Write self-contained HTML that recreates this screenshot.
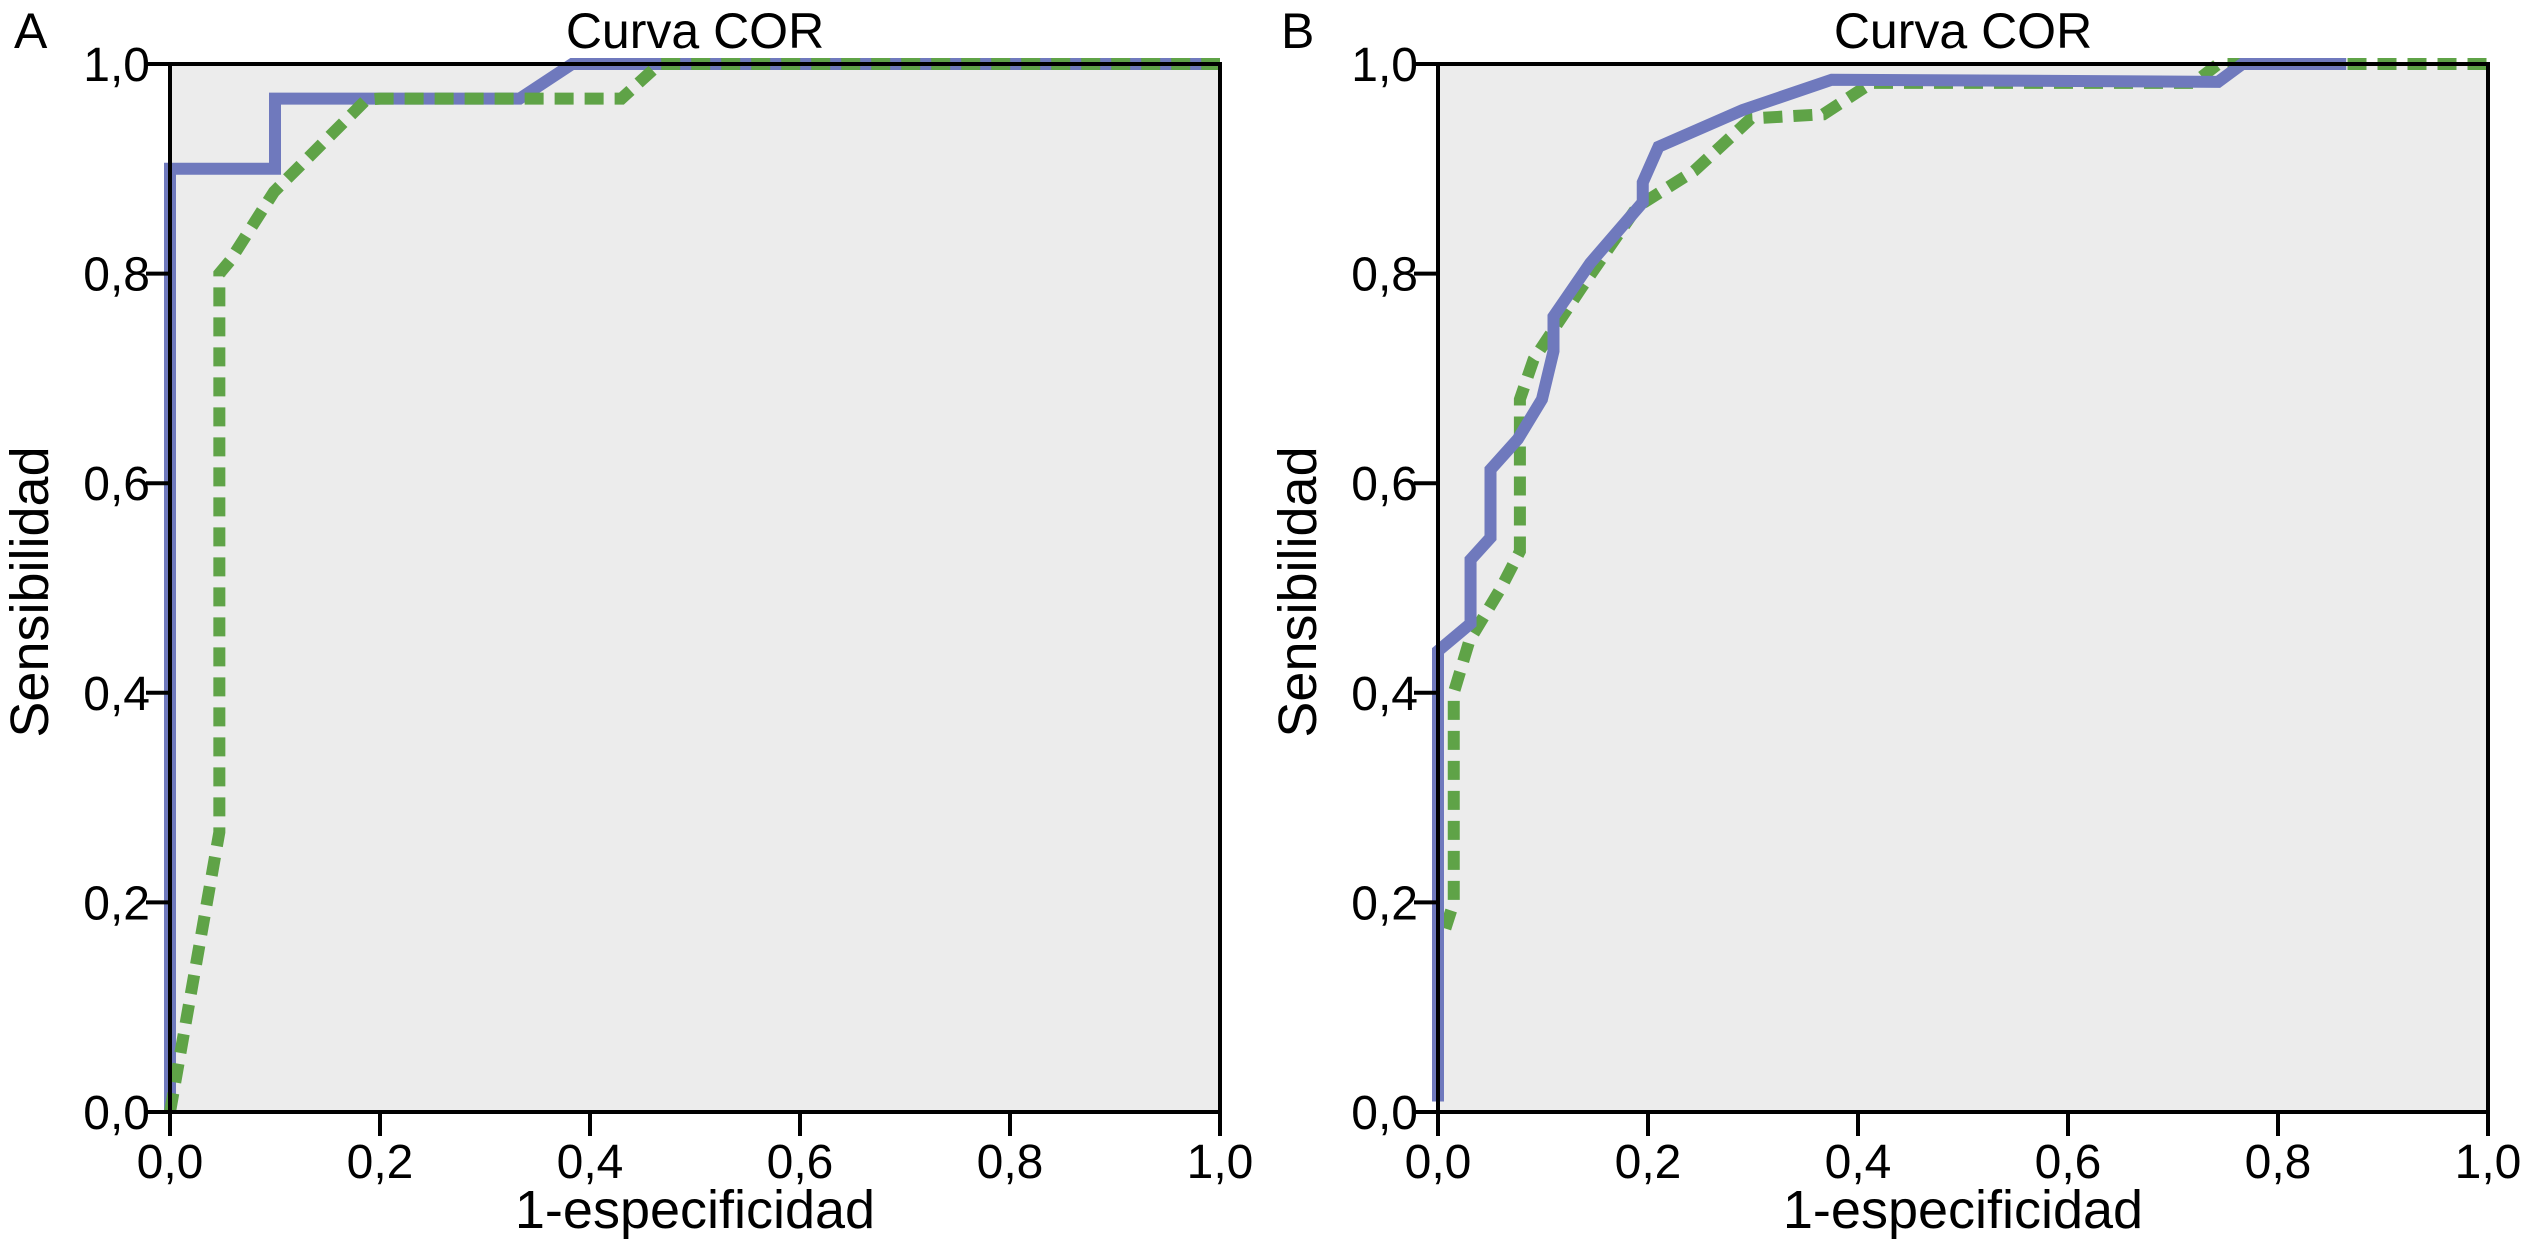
<!DOCTYPE html>
<html><head><meta charset="utf-8"><style>
html,body{margin:0;padding:0;background:#fff;}
svg{display:block;font-family:"Liberation Sans",Arial,sans-serif;}
</style></head><body>
<svg id="chart" width="2521" height="1257" viewBox="0 0 2521 1257"></svg>
<script>
const xTicks=[0,0.2,0.4,0.6,0.8,1.0];
const yTicks=[0,0.2,0.4,0.6,0.8,1.0];
const tickLabels=["0,0","0,2","0,4","0,6","0,8","1,0"];
const aBlueX=[0,0,0.1,0.1,0.333,0.383,1];
const aBlueY=[0,0.9,0.9,0.967,0.967,1,1];
const aGreenX=[0,0.047,0.047,0.057,0.099,0.187,0.2,0.43,0.466,1];
const aGreenY=[0,0.267,0.8,0.812,0.878,0.966,0.967,0.967,1,1];
const bBlueX=[0,0,0.031,0.031,0.05,0.05,0.076,0.099,0.11,0.11,0.145,0.195,0.195,0.21,0.29,0.375,0.743,0.766,0.865];
const bBlueY=[0.01,0.44,0.466,0.527,0.548,0.613,0.642,0.68,0.726,0.759,0.81,0.868,0.887,0.921,0.956,0.985,0.983,1,1];
const bGreenX=[0.007,0.015,0.015,0.03,0.06,0.078,0.078,0.091,0.137,0.19,0.244,0.298,0.367,0.413,0.72,0.743,1];
const bGreenY=[0.175,0.2,0.4,0.45,0.5,0.535,0.68,0.718,0.787,0.864,0.898,0.948,0.952,0.982,0.982,1,1];

const NS="http://www.w3.org/2000/svg";
const svg=document.getElementById('chart');
function mk(tag,attrs,parent){const e=document.createElementNS(NS,tag);for(const k in attrs)e.setAttribute(k,attrs[k]);(parent||svg).appendChild(e);return e;}

const panels=[
 {letter:"A",x0:170,x1:1220,bx:aBlueX,by:aBlueY,gx:aGreenX,gy:aGreenY,lx:14,greenTop:true},
 {letter:"B",x0:1438,x1:2488,bx:bBlueX,by:bBlueY,gx:bGreenX,gy:bGreenY,lx:1281,greenTop:false}
];
const y0=1112,y1=64;
panels.forEach((p,i)=>{
 const g=mk('g',{});
 
 
 const sx=v=>p.x0+v*(p.x1-p.x0);
 const sy=v=>y0-v*(y0-y1);
 const bg=mk('rect',{x:p.x0,y:y1,width:p.x1-p.x0,height:y0-y1,fill:'#ececec'},g);
 
 
 function green(){
  const gl=mk('path',{d:'M'+p.gx.map((v,k)=>sx(v)+','+sy(p.gy[k])).join(' L'),fill:'none',stroke:'#5fa347','stroke-width':12,'stroke-dasharray':'19 11'},g);
  
  
 }
 function blue(){
  const bl=mk('path',{d:'M'+p.bx.map((v,k)=>sx(v)+','+sy(p.by[k])).join(' L'),fill:'none',stroke:'#6f79bd','stroke-width':12,'stroke-linejoin':'miter'},g);
  
  
 }
 if(p.greenTop){blue();green();}else{green();blue();}
 const fr=mk('rect',{x:p.x0,y:y1,width:p.x1-p.x0,height:y0-y1,fill:'none',stroke:'#000','stroke-width':4},g);
 
 
 xTicks.forEach((v,k)=>{
  const t=mk('line',{x1:sx(v),x2:sx(v),y1:y0,y2:y0+24,stroke:'#000','stroke-width':4},g);
  
  
  const tl=mk('text',{x:sx(v),y:y0+66,'font-size':48,'text-anchor':'middle',fill:'#000'},g);
  tl.textContent=tickLabels[k];
  
  
 });
 yTicks.forEach((v,k)=>{
  const t=mk('line',{x1:p.x0-24,x2:p.x0,y1:sy(v),y2:sy(v),stroke:'#000','stroke-width':4},g);
  
  
  const tl=mk('text',{x:p.x0-20,y:sy(v)+17,'font-size':48,'text-anchor':'end',fill:'#000'},g);
  tl.textContent=tickLabels[k];
  
  
 });
 const ti=mk('text',{x:(p.x0+p.x1)/2,y:48,'font-size':50,'text-anchor':'middle',fill:'#000'},g);
 ti.textContent='Curva COR';
 
 
 const xt=mk('text',{x:(p.x0+p.x1)/2,y:1228,'font-size':54,'text-anchor':'middle',fill:'#000'},g);
 xt.textContent='1-especificidad';
 
 
 const yt=mk('text',{x:0,y:0,'font-size':54,'text-anchor':'middle',fill:'#000',transform:'translate('+(p.x0-122)+',592) rotate(-90)'},g);
 yt.textContent='Sensibilidad';
 
 
 const le=mk('text',{x:p.lx,y:48,'font-size':50,fill:'#000'},g);
 le.textContent=p.letter;
 
 
});
</script>
</body></html>
